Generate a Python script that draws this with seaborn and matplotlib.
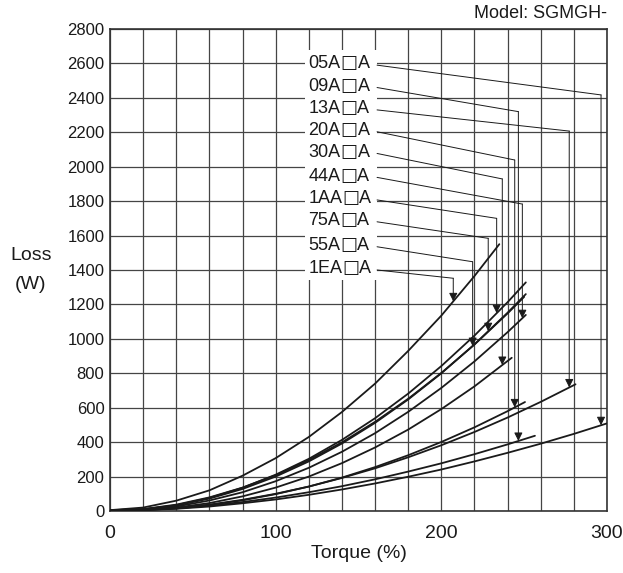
import numpy as np
import pandas as pd
import matplotlib.pyplot as plt
import seaborn as sns
from matplotlib.patches import Rectangle
from matplotlib.offsetbox import TextArea, HPacker, AnnotationBbox

# loss curves: torque (%) and loss (W) per motor model
t_05A = list(range(0, 301, 20))
loss_05A = [5, 6, 13, 26, 45, 67, 94, 125, 160, 199, 241, 288, 338, 391, 448, 509]
t_09A = list(range(0, 241, 20)) + [256.5]
loss_09A = [5, 6, 15, 31, 52, 78, 109, 144, 184, 229, 277, 330, 387, 437]
t_13A = list(range(0, 261, 20)) + [281]
loss_13A = [5, 6, 17, 37, 65, 100, 142, 192, 248, 312, 382, 459, 543, 634, 736]
t_20A = list(range(0, 241, 20)) + [250.5]
loss_20A = [5, 6, 15, 35, 62, 98, 142, 194, 255, 324, 401, 486, 580, 633]
t_30A = list(range(0, 221, 20)) + [242.5]
loss_30A = [5, 6, 20, 46, 85, 136, 200, 278, 369, 473, 592, 724, 890]
t_44A = list(range(0, 241, 20)) + [251]
loss_44A = [5, 8, 26, 61, 109, 173, 251, 344, 452, 576, 715, 869, 1039, 1139]
t_1AA = list(range(0, 241, 20)) + [251]
loss_1AA = [5, 10, 34, 76, 135, 211, 303, 413, 539, 682, 842, 1019, 1213, 1328]
t_75A = list(range(0, 241, 20)) + [251]
loss_75A = [5, 9, 32, 72, 128, 200, 288, 392, 512, 648, 800, 968, 1152, 1260]
t_55A = list(range(0, 241, 20)) + [250]
loss_55A = [5, 11, 37, 79, 136, 208, 296, 399, 518, 652, 802, 967, 1148, 1244]
t_1EA = list(range(0, 221, 20)) + [235]
loss_1EA = [5, 20, 60, 120, 205, 307, 430, 575, 740, 930, 1135, 1365, 1550]

models = ["05A□A", "09A□A", "13A□A", "20A□A", "30A□A",
          "44A□A", "1AA□A", "75A□A", "55A□A", "1EA□A"]
torques = [t_05A, t_09A, t_13A, t_20A, t_30A, t_44A, t_1AA, t_75A, t_55A, t_1EA]
losses = [loss_05A, loss_09A, loss_13A, loss_20A, loss_30A,
          loss_44A, loss_1AA, loss_75A, loss_55A, loss_1EA]

# label column and leader lines (label y, corner y, x where arrow hits curve)
label_y = [2600, 2470, 2340, 2213, 2087, 1948, 1817, 1690, 1545, 1410]
corner_y = [2417, 2320, 2207, 2039, 1929, 1783, 1700, 1584, 1448, 1352]
arrow_x = [296.4, 246.5, 277.2, 244.3, 236.8, 248.9, 233.4, 228.3, 218.9, 207.2]

rows = []
for m, ts, ls in zip(models, torques, losses):
    for t, l in zip(ts, ls):
        rows.append({"model": m, "torque": t, "loss": l})
df = pd.DataFrame(rows)

sns.set_theme(style="white")
plt.rcParams["font.family"] = ["Liberation Sans", "DejaVu Sans"]
ink = "#1a1a1a"

fig = plt.figure(figsize=(6.23, 5.73), dpi=100)
ax = fig.add_axes([110 / 623, 62 / 573, 497 / 623, 482 / 573])

sns.lineplot(data=df, x="torque", y="loss", hue="model", palette=[ink] * len(models),
             legend=False, estimator=None, linewidth=1.3, ax=ax, zorder=3)

ax.set_xlim(0, 300)
ax.set_ylim(0, 2800)
ax.set_xticks([0, 100, 200, 300])
ax.set_xticks(np.arange(0, 301, 20), minor=True)
ax.set_yticks(np.arange(0, 2801, 200))
ax.grid(True, which="both", color="#454545", linewidth=0.9)
ax.set_axisbelow(True)
ax.tick_params(axis="both", which="both", length=0, labelcolor=ink)
ax.tick_params(axis="x", pad=10, labelsize=14)
ax.tick_params(axis="y", pad=4, labelsize=12)
for s in ax.spines.values():
    s.set_color("#333333")
    s.set_linewidth(1.2)

ax.set_xlabel("Torque (%)", fontsize=14, color=ink, labelpad=2)
ax.set_ylabel("Loss\n(W)", fontsize=14, color=ink, rotation=0,
              ha="center", va="center", linespacing=1.9)
ax.yaxis.set_label_coords(-0.159, 0.5)

ax.text(1.0, 1.033, "Model: SGMGH-", transform=ax.transAxes, ha="right",
        va="center", fontsize=13, color=ink)

# white box behind the model labels
ax.add_patch(Rectangle((117.5, 1342), 43.7, 1336, facecolor="white",
                       edgecolor="none", zorder=2))

for m, ly, cy, ax_x, ts, ls in zip(models, label_y, corner_y, arrow_x, torques, losses):
    head, tail = m.split("□")
    parts = [TextArea(head, textprops=dict(fontsize=13, color=ink, family="Liberation Sans")),
             TextArea("□", textprops=dict(fontsize=13, color=ink, family="DejaVu Sans")),
             TextArea(tail, textprops=dict(fontsize=13, color=ink, family="Liberation Sans"))]
    box = HPacker(children=parts, align="baseline", pad=0, sep=0)
    ab = AnnotationBbox(box, (119.8, ly), xycoords="data", box_alignment=(0, 0.5),
                        frameon=False, pad=0)
    ab.set_zorder(4)
    ax.add_artist(ab)
    ax.plot([161.2, ax_x], [ly - 10, cy], color=ink, linewidth=0.7, zorder=4)
    tip = np.interp(ax_x, ts, ls)
    ax.annotate("", xy=(ax_x, tip), xytext=(ax_x, cy),
                arrowprops=dict(arrowstyle="-|>,head_length=0.5,head_width=0.25",
                                mutation_scale=10, color=ink, lw=0.7,
                                shrinkA=0, shrinkB=0), zorder=4)

fig.savefig("out.png", dpi=100)
